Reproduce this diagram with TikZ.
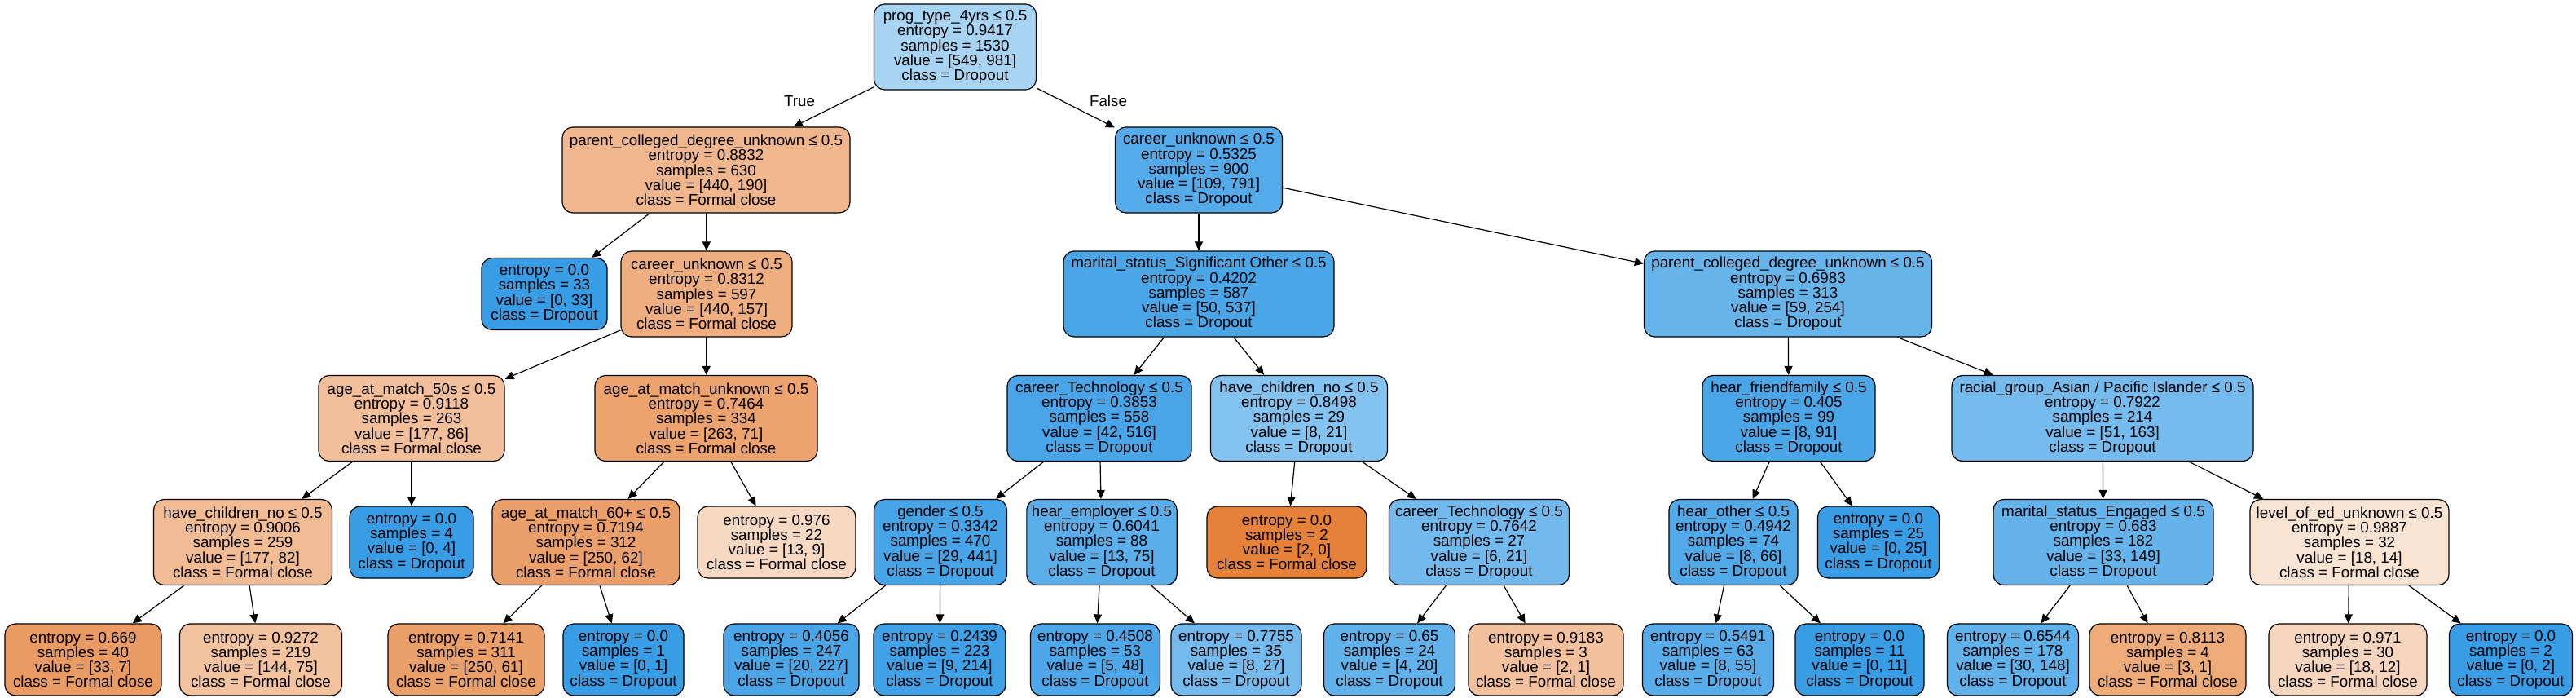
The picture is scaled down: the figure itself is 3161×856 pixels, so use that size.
\documentclass[tikz,border=0pt]{standalone}
\usepackage{fontspec}
\setmainfont{Liberation Sans}
\usetikzlibrary{arrows.meta}
\definecolor{dc}{RGB}{57,157,229}
\definecolor{fc}{RGB}{229,129,57}
\begin{document}
\begin{tikzpicture}[x=0.5pt,y=-0.5pt,
 box/.style={draw=black, line width=0.6pt, rounded corners=6.5pt, align=center, inner xsep=3pt, inner ysep=0pt, font=\fontsize{9.4pt}{9.15pt}\selectfont},
 split/.style={box, minimum height=52.5pt},
 leaf/.style={box, minimum height=44pt},
 arr/.style={-{Triangle[length=5.5pt,width=5pt]}, line width=0.6pt},
 lbl/.style={font=\fontsize{9.4pt}{9.15pt}\selectfont, inner sep=0pt}]
\useasboundingbox (0,0) rectangle (3161,856);
% row 0
\node[split, fill=dc!44!white, minimum width=99.5pt] (n0) at (1172,57.5) {prog\_type\_4yrs ≤ 0.5\\entropy = 0.9417\\samples = 1530\\value = [549, 981]\\class = Dropout};
% row 1
\node[split, fill=fc!57!white, minimum width=176.5pt] (n1) at (866.5,208.5) {parent\_colleged\_degree\_unknown ≤ 0.5\\entropy = 0.8832\\samples = 630\\value = [440, 190]\\class = Formal close};
\node[split, fill=dc!86!white, minimum width=102.5pt] (n2) at (1471,208.5) {career\_unknown ≤ 0.5\\entropy = 0.5325\\samples = 900\\value = [109, 791]\\class = Dropout};
% row 2
\node[leaf, fill=dc, minimum width=77pt] (n3) at (668,360.5) {entropy = 0.0\\samples = 33\\value = [0, 33]\\class = Dropout};
\node[split, fill=fc!64!white, minimum width=105pt] (n4) at (867,360.5) {career\_unknown ≤ 0.5\\entropy = 0.8312\\samples = 597\\value = [440, 157]\\class = Formal close};
\node[split, fill=dc!91!white, minimum width=166pt] (n15) at (1471,360.5) {marital\_status\_Significant Other ≤ 0.5\\entropy = 0.4202\\samples = 587\\value = [50, 537]\\class = Dropout};
\node[split, fill=dc!77!white, minimum width=176.5pt] (n16) at (2194,360.5) {parent\_colleged\_degree\_unknown ≤ 0.5\\entropy = 0.6983\\samples = 313\\value = [59, 254]\\class = Dropout};
% row 3
\node[split, fill=fc!51!white, minimum width=114pt] (n5) at (505,513) {age\_at\_match\_50s ≤ 0.5\\entropy = 0.9118\\samples = 263\\value = [177, 86]\\class = Formal close};
\node[split, fill=fc!73!white, minimum width=136.5pt] (n6) at (866.5,513) {age\_at\_match\_unknown ≤ 0.5\\entropy = 0.7464\\samples = 334\\value = [263, 71]\\class = Formal close};
\node[split, fill=dc!92!white, minimum width=113pt] (n17) at (1349,513) {career\_Technology ≤ 0.5\\entropy = 0.3853\\samples = 558\\value = [42, 516]\\class = Dropout};
\node[split, fill=dc!62!white, minimum width=108.5pt] (n18) at (1594,513) {have\_children\_no ≤ 0.5\\entropy = 0.8498\\samples = 29\\value = [8, 21]\\class = Dropout};
\node[split, fill=dc!91!white, minimum width=106pt] (n29) at (2195,513) {hear\_friendfamily ≤ 0.5\\entropy = 0.405\\samples = 99\\value = [8, 91]\\class = Dropout};
\node[split, fill=dc!69!white, minimum width=185pt] (n30) at (2580,513) {racial\_group\_Asian / Pacific Islander ≤ 0.5\\entropy = 0.7922\\samples = 214\\value = [51, 163]\\class = Dropout};
% row 4
\node[split, fill=fc!54!white, minimum width=109.5pt] (n7) at (298,665) {have\_children\_no ≤ 0.5\\entropy = 0.9006\\samples = 259\\value = [177, 82]\\class = Formal close};
\node[leaf, fill=dc, minimum width=76pt] (n8) at (505,665) {entropy = 0.0\\samples = 4\\value = [0, 4]\\class = Dropout};
\node[split, fill=fc!75!white, minimum width=115pt] (n11) at (719,665) {age\_at\_match\_60+ ≤ 0.5\\entropy = 0.7194\\samples = 312\\value = [250, 62]\\class = Formal close};
\node[leaf, fill=fc!31!white, minimum width=97pt] (n12) at (953,665) {entropy = 0.976\\samples = 22\\value = [13, 9]\\class = Formal close};
\node[split, fill=dc!93!white, minimum width=81.5pt] (n19) at (1154,665) {gender ≤ 0.5\\entropy = 0.3342\\samples = 470\\value = [29, 441]\\class = Dropout};
\node[split, fill=dc!83!white, minimum width=92pt] (n20) at (1352,665) {hear\_employer ≤ 0.5\\entropy = 0.6041\\samples = 88\\value = [13, 75]\\class = Dropout};
\node[leaf, fill=fc, minimum width=98pt] (n25) at (1579,665) {entropy = 0.0\\samples = 2\\value = [2, 0]\\class = Formal close};
\node[split, fill=dc!71!white, minimum width=110.5pt] (n26) at (1815,665) {career\_Technology ≤ 0.5\\entropy = 0.7642\\samples = 27\\value = [6, 21]\\class = Dropout};
\node[split, fill=dc!88!white, minimum width=79pt] (n31) at (2127,665) {hear\_other ≤ 0.5\\entropy = 0.4942\\samples = 74\\value = [8, 66]\\class = Dropout};
\node[leaf, fill=dc, minimum width=74.5pt] (n32) at (2305,665) {entropy = 0.0\\samples = 25\\value = [0, 25]\\class = Dropout};
\node[split, fill=dc!78!white, minimum width=135pt] (n35) at (2581,665) {marital\_status\_Engaged ≤ 0.5\\entropy = 0.683\\samples = 182\\value = [33, 149]\\class = Dropout};
\node[split, fill=fc!22!white, minimum width=122pt] (n36) at (2883,665) {level\_of\_ed\_unknown ≤ 0.5\\entropy = 0.9887\\samples = 32\\value = [18, 14]\\class = Formal close};
% row 5
\node[leaf, fill=fc!79!white, minimum width=96pt] (n9) at (102,809) {entropy = 0.669\\samples = 40\\value = [33, 7]\\class = Formal close};
\node[leaf, fill=fc!48!white, minimum width=99.5pt] (n10) at (320,809) {entropy = 0.9272\\samples = 219\\value = [144, 75]\\class = Formal close};
\node[leaf, fill=fc!76!white, minimum width=96pt] (n13) at (572,809) {entropy = 0.7141\\samples = 311\\value = [250, 61]\\class = Formal close};
\node[leaf, fill=dc, minimum width=74pt] (n14) at (765,809) {entropy = 0.0\\samples = 1\\value = [0, 1]\\class = Dropout};
\node[leaf, fill=dc!91!white, minimum width=83pt] (n21) at (971,809) {entropy = 0.4056\\samples = 247\\value = [20, 227]\\class = Dropout};
\node[leaf, fill=dc!96!white, minimum width=81pt] (n22) at (1153,809) {entropy = 0.2439\\samples = 223\\value = [9, 214]\\class = Dropout};
\node[leaf, fill=dc!90!white, minimum width=79.5pt] (n23) at (1344,809) {entropy = 0.4508\\samples = 53\\value = [5, 48]\\class = Dropout};
\node[leaf, fill=dc!70!white, minimum width=80pt] (n24) at (1517,809) {entropy = 0.7755\\samples = 35\\value = [8, 27]\\class = Dropout};
\node[leaf, fill=dc!80!white, minimum width=80.5pt] (n27) at (1705,809) {entropy = 0.65\\samples = 24\\value = [4, 20]\\class = Dropout};
\node[leaf, fill=fc!50!white, minimum width=95pt] (n28) at (1897,809) {entropy = 0.9183\\samples = 3\\value = [2, 1]\\class = Formal close};
\node[leaf, fill=dc!85!white, minimum width=80.5pt] (n33) at (2096,809) {entropy = 0.5491\\samples = 63\\value = [8, 55]\\class = Dropout};
\node[leaf, fill=dc, minimum width=79pt] (n34) at (2282,809) {entropy = 0.0\\samples = 11\\value = [0, 11]\\class = Dropout};
\node[leaf, fill=dc!80!white, minimum width=80.5pt] (n37) at (2470,809) {entropy = 0.6544\\samples = 178\\value = [30, 148]\\class = Dropout};
\node[leaf, fill=fc!67!white, minimum width=96pt] (n38) at (2660,809) {entropy = 0.8113\\samples = 4\\value = [3, 1]\\class = Formal close};
\node[leaf, fill=fc!33!white, minimum width=97pt] (n39) at (2881,809) {entropy = 0.971\\samples = 30\\value = [18, 12]\\class = Formal close};
\node[leaf, fill=dc, minimum width=75.5pt] (n40) at (3081,809) {entropy = 0.0\\samples = 2\\value = [0, 2]\\class = Dropout};
% edges
\draw[arr] (n0) -- (n1);
\draw[arr] (n0) -- (n2);
\draw[arr] (n1) -- (n3);
\draw[arr] (n1) -- (n4);
\draw[arr] (n4) -- (n5);
\draw[arr] (n4) -- (n6);
\draw[arr] (n5) -- (n7);
\draw[arr] (n5) -- (n8);
\draw[arr] (n7) -- (n9);
\draw[arr] (n7) -- (n10);
\draw[arr] (n6) -- (n11);
\draw[arr] (n6) -- (n12);
\draw[arr] (n11) -- (n13);
\draw[arr] (n11) -- (n14);
\draw[arr] (n2) -- (n15);
\draw[arr] (n2) -- (n16);
\draw[arr] (n15) -- (n17);
\draw[arr] (n15) -- (n18);
\draw[arr] (n17) -- (n19);
\draw[arr] (n17) -- (n20);
\draw[arr] (n19) -- (n21);
\draw[arr] (n19) -- (n22);
\draw[arr] (n20) -- (n23);
\draw[arr] (n20) -- (n24);
\draw[arr] (n18) -- (n25);
\draw[arr] (n18) -- (n26);
\draw[arr] (n26) -- (n27);
\draw[arr] (n26) -- (n28);
\draw[arr] (n16) -- (n29);
\draw[arr] (n16) -- (n30);
\draw[arr] (n29) -- (n31);
\draw[arr] (n29) -- (n32);
\draw[arr] (n31) -- (n33);
\draw[arr] (n31) -- (n34);
\draw[arr] (n30) -- (n35);
\draw[arr] (n30) -- (n36);
\draw[arr] (n35) -- (n37);
\draw[arr] (n35) -- (n38);
\draw[arr] (n36) -- (n39);
\draw[arr] (n36) -- (n40);
% edge labels
\node[lbl] (lt) at (981,124) {True};
\node[lbl] (lf) at (1360,124) {False};
\end{tikzpicture}
\end{document}
